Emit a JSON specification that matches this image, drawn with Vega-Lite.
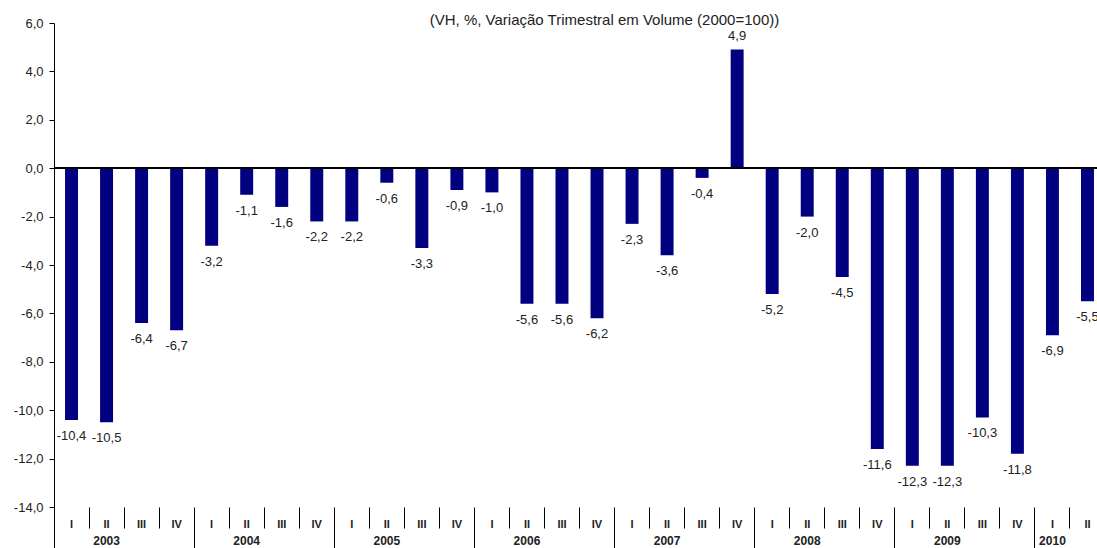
{
  "$schema": "https://vega.github.io/schema/vega-lite/v6.json",
  "autosize": {"type": "none"},
  "padding": {"left": 54, "top": 23, "right": 0, "bottom": 41},
  "width": 1051,
  "height": 484,
  "title": {
    "text": "(VH, %, Variação Trimestral em Volume (2000=100))",
    "font": "Liberation Sans",
    "fontSize": 15,
    "fontWeight": "normal",
    "color": "#222222",
    "anchor": "middle",
    "baseline": "alphabetic",
    "dx": 25,
    "offset": -23
  },
  "data": {
    "values": [
      {"q": "2003-I", "v": -10.4}, {"q": "2003-II", "v": -10.5}, {"q": "2003-III", "v": -6.4}, {"q": "2003-IV", "v": -6.7},
      {"q": "2004-I", "v": -3.2}, {"q": "2004-II", "v": -1.1}, {"q": "2004-III", "v": -1.6}, {"q": "2004-IV", "v": -2.2},
      {"q": "2005-I", "v": -2.2}, {"q": "2005-II", "v": -0.6}, {"q": "2005-III", "v": -3.3}, {"q": "2005-IV", "v": -0.9},
      {"q": "2006-I", "v": -1.0}, {"q": "2006-II", "v": -5.6}, {"q": "2006-III", "v": -5.6}, {"q": "2006-IV", "v": -6.2},
      {"q": "2007-I", "v": -2.3}, {"q": "2007-II", "v": -3.6}, {"q": "2007-III", "v": -0.4}, {"q": "2007-IV", "v": 4.9},
      {"q": "2008-I", "v": -5.2}, {"q": "2008-II", "v": -2.0}, {"q": "2008-III", "v": -4.5}, {"q": "2008-IV", "v": -11.6},
      {"q": "2009-I", "v": -12.3}, {"q": "2009-II", "v": -12.3}, {"q": "2009-III", "v": -10.3}, {"q": "2009-IV", "v": -11.8},
      {"q": "2010-I", "v": -6.9}, {"q": "2010-II", "v": -5.5}
    ]
  },
  "resolve": {"axis": {"x": "independent"}},
  "layer": [
    {
      "mark": {"type": "bar", "width": {"band": 0.37}, "color": "#000080"},
      "encoding": {
        "x": {
          "field": "q", "type": "ordinal", "sort": null,
          "scale": {"paddingInner": 0, "paddingOuter": 0},
          "axis": {
            "orient": "bottom",
            "title": null, "domain": false, "ticks": false,
            "labelExpr": "split(datum.value, '-')[1]",
            "labelAngle": 0, "labelBaseline": "top", "labelPadding": 11,
            "labelFont": "Liberation Sans", "labelFontSize": 11, "labelFontWeight": "bold", "labelColor": "#222222"
          }
        },
        "y": {
          "field": "v", "type": "quantitative",
          "scale": {"domain": [-14, 6], "nice": false},
          "axis": {
            "title": null, "values": [-14, -12, -10, -8, -6, -4, -2, 0, 2, 4, 6],
            "format": ".1f", "grid": false,
            "domainColor": "#000000", "tickColor": "#000000", "tickSize": 5,
            "labelPadding": 6, "labelFont": "Liberation Sans", "labelFontSize": 13, "labelColor": "#222222"
          }
        }
      }
    },
    {
      "transform": [{"filter": "datum.v < 0"}],
      "mark": {"type": "text", "baseline": "top", "dy": 10, "font": "Liberation Sans", "fontSize": 13, "color": "#222222"},
      "encoding": {
        "x": {
          "field": "q", "type": "ordinal", "sort": null,
          "axis": {
            "orient": "bottom",
            "title": null, "domain": false, "labels": false, "ticks": true,
            "bandPosition": 0, "tickColor": "#000000", "tickWidth": 1,
            "tickSize": {"condition": {"test": "split(datum.value, '-')[1] === 'I'", "value": 41}, "value": 21}
          }
        },
        "y": {"field": "v", "type": "quantitative"},
        "text": {"field": "v", "type": "quantitative", "format": ".1f"}
      }
    },
    {
      "transform": [{"filter": "datum.v > 0"}],
      "mark": {"type": "text", "baseline": "alphabetic", "dy": -10, "font": "Liberation Sans", "fontSize": 13, "color": "#222222"},
      "encoding": {
        "x": {
          "field": "q", "type": "ordinal", "sort": null,
          "axis": {
            "orient": "bottom",
            "title": null, "domain": false, "ticks": false, "bandPosition": 1,
            "labelExpr": "(split(datum.value, '-')[1] === 'II' && split(datum.value, '-')[0] !== '2010') || datum.value === '2010-I' ? split(datum.value, '-')[0] : ''",
            "labelAngle": 0, "labelBaseline": "top", "labelPadding": 28,
            "labelFont": "Liberation Sans", "labelFontSize": 12, "labelFontWeight": "bold", "labelColor": "#222222"
          }
        },
        "y": {"field": "v", "type": "quantitative"},
        "text": {"field": "v", "type": "quantitative", "format": ".1f"}
      }
    },
    {
      "mark": {"type": "rule", "color": "#000000", "strokeWidth": 1},
      "encoding": {"y": {"datum": 0}}
    }
  ],
  "config": {
    "view": {"stroke": null},
    "locale": {"number": {"decimal": ",", "thousands": ".", "grouping": [3], "currency": ["", ""], "minus": "-"}}
  }
}
